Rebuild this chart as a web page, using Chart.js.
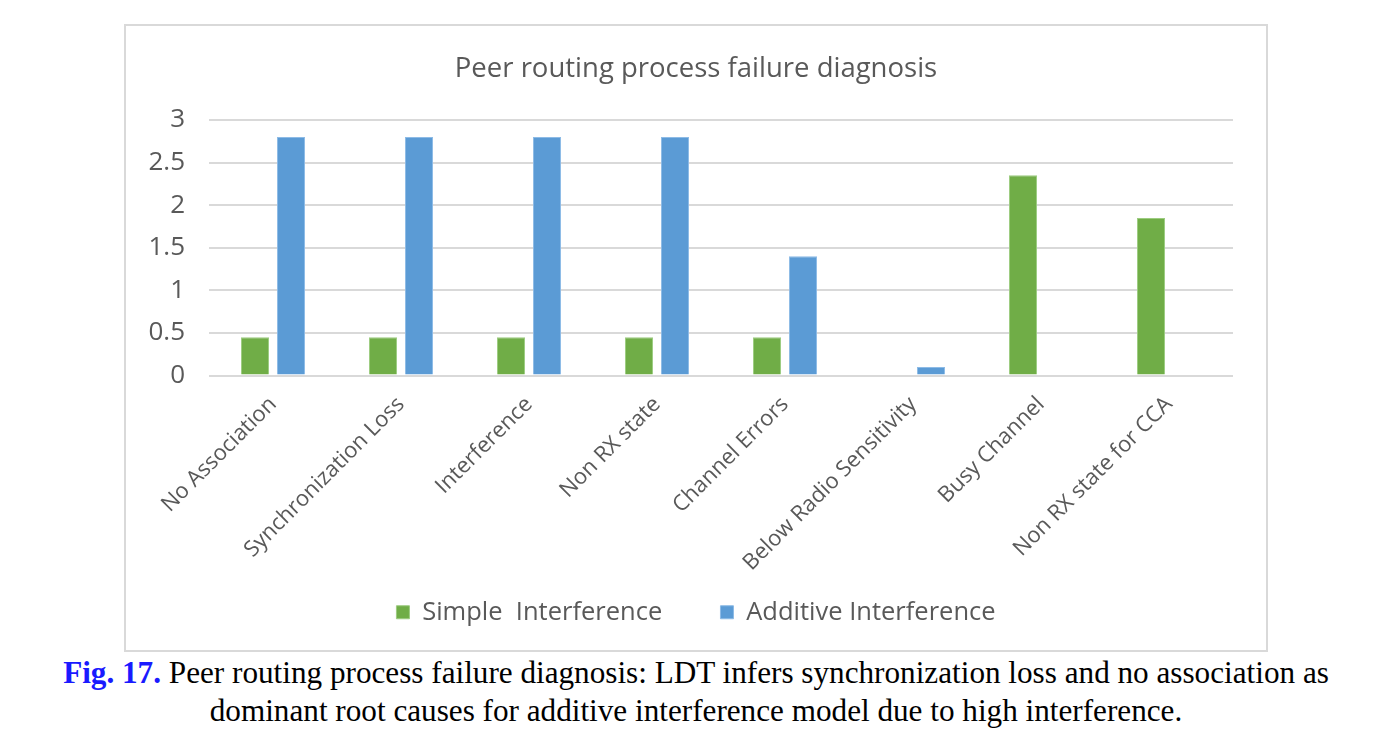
<!DOCTYPE html>
<html>
<head>
<meta charset="utf-8">
<script src="https://cdn.jsdelivr.net/npm/chart.js@4/dist/chart.umd.min.js"></script>
<style>
  body { margin: 0; background: #fff; width: 1392px; height: 750px; position: relative; overflow: hidden; }
  #box { position: absolute; left: 124px; top: 24px; width: 1140px; height: 624px; border: 2px solid #d9d9d9; }
  #caption { position: absolute; left: 0; top: 654px; width: 1392px; text-align: center; white-space: nowrap;
    font-family: "Liberation Serif", "Times New Roman", serif; font-size: 31.2px; line-height: 38px; color: #000; }
  #caption b { color: #1a1aff; }
</style>
</head>
<body>
<div id="box"><canvas id="chart" width="1140" height="624"></canvas></div>
<div id="caption"><b>Fig. 17.</b> Peer routing process failure diagnosis: LDT infers synchronization loss and no association as<br>dominant root causes for additive interference model due to high interference.</div>
<script>
// Peer routing failure data
const categories = ["No Association", "Synchronization Loss", "Interference", "Non RX state",
  "Channel Errors", "Below Radio Sensitivity", "Busy Channel", "Non RX state for CCA"];
const simpleValues = [0.45, 0.45, 0.45, 0.45, 0.45, 0, 2.35, 1.85];
const additiveValues = [2.8, 2.8, 2.8, 2.8, 1.4, 0.1, 0, 0];
const yTicks = [0, 0.5, 1, 1.5, 2, 2.5, 3];

const grey = "#595959";
const font = "'Open Sans', 'Noto Sans', sans-serif";

new Chart(document.getElementById("chart"), {
  type: "bar",
  data: {
    labels: categories,
    datasets: [
      {
        label: "Simple  Interference",
        data: simpleValues,
        backgroundColor: "#70ad47",
        borderColor: "#9ccc80",
        borderWidth: 1,
        categoryPercentage: 0.5625,
        barPercentage: 0.78
      },
      {
        label: "Additive Interference",
        data: additiveValues,
        backgroundColor: "#5b9bd5",
        borderColor: "#8dbbe6",
        borderWidth: 1,
        categoryPercentage: 0.5625,
        barPercentage: 0.78
      }
    ]
  },
  options: {
    responsive: false,
    animation: false,
    layout: { padding: { left: 0, right: 0, top: 0, bottom: 15 } },
    plugins: {
      title: {
        display: true,
        text: "Peer routing process failure diagnosis",
        color: grey,
        font: { family: font, size: 27.5, weight: "normal" },
        padding: { top: 27, bottom: 34 }
      },
      legend: {
        position: "bottom",
        labels: {
          color: grey,
          font: { family: font, size: 25.5 },
          boxWidth: 13,
          boxHeight: 13,
          padding: 20,
          generateLabels: (chart) => {
            const items = Chart.defaults.plugins.legend.labels.generateLabels(chart);
            // extra room after the first entry, like the original legend spacing
            items[0].text += "\u2003\u2002";
            return items;
          }
        }
      },
      tooltip: { enabled: false }
    },
    scales: {
      x: {
        grid: { display: false },
        border: { display: false },
        ticks: {
          color: grey,
          font: { family: font, size: 22 },
          maxRotation: 45,
          minRotation: 45,
          padding: 8
        },
        afterFit: (s) => { s.height = 204; }
      },
      y: {
        min: 0,
        max: 3,
        afterBuildTicks: (s) => { s.ticks = yTicks.map(v => ({ value: v })); },
        grid: { color: "#d9d9d9", lineWidth: 2, drawTicks: false },
        border: { display: false },
        ticks: {
          color: grey,
          font: { family: font, size: 26 },
          padding: 24,
          callback: (v) => String(v)
        },
        afterFit: (s) => { s.width = 83; }
      },
      // empty right-hand margin so the title and legend stay centred in the box
      yRight: {
        position: "right",
        min: 0,
        max: 3,
        grid: { display: false },
        border: { display: false },
        ticks: { display: false },
        afterFit: (s) => { s.width = 33; }
      }
    }
  }
});
</script>
</body>
</html>
